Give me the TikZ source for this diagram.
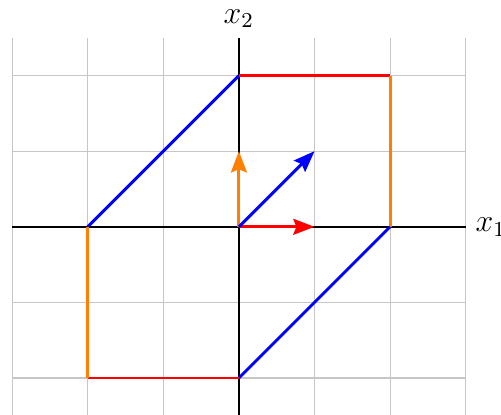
\documentclass[tikz,border=0pt]{standalone}
\usetikzlibrary{arrows.meta}
\begin{document}
\begin{tikzpicture}[
  gridline/.style={gray!45, line width=0.4pt},
  axis/.style={black, line width=0.8pt},
  edge/.style={line width=1.1pt},
  vec/.style={line width=1.1pt, -{Stealth[length=2.8mm,width=2.1mm,inset=0.4mm]}},
  lab/.style={font=\large}
]
\useasboundingbox (-3.16,-2.476) rectangle (3.467,3.0);
\draw[gridline] (-3,-2.5) grid (3,2.5);
\coordinate (xl) at (-3,0);
\coordinate (xr) at (3,0);
\coordinate (yb) at (0,-2.5);
\coordinate (yt) at (0,2.5);
\draw[axis] (xl) -- (xr) node[right, lab] {$x_1$};
\draw[axis] (yb) -- (yt) node[above, lab] {$x_2$};
\coordinate (O) at (0,0);
\coordinate (A) at (-2,0);
\coordinate (B) at (0,2);
\coordinate (C) at (2,2);
\coordinate (D) at (2,0);
\coordinate (E) at (0,-2);
\coordinate (F) at (-2,-2);
\coordinate (e1) at (1,0);
\coordinate (e2) at (0,1);
\coordinate (e3) at (1,1);
\draw[edge, blue] (A) -- (B);
\draw[edge, red] (B) -- (C);
\draw[edge, orange] (C) -- (D);
\draw[edge, blue] (D) -- (E);
\draw[edge, red] (E) -- (F);
\draw[edge, orange] (F) -- (A);
\draw[vec, red] (O) -- (e1);
\draw[vec, orange] (O) -- (e2);
\draw[vec, blue] (O) -- (e3);
\end{tikzpicture}
\end{document}
